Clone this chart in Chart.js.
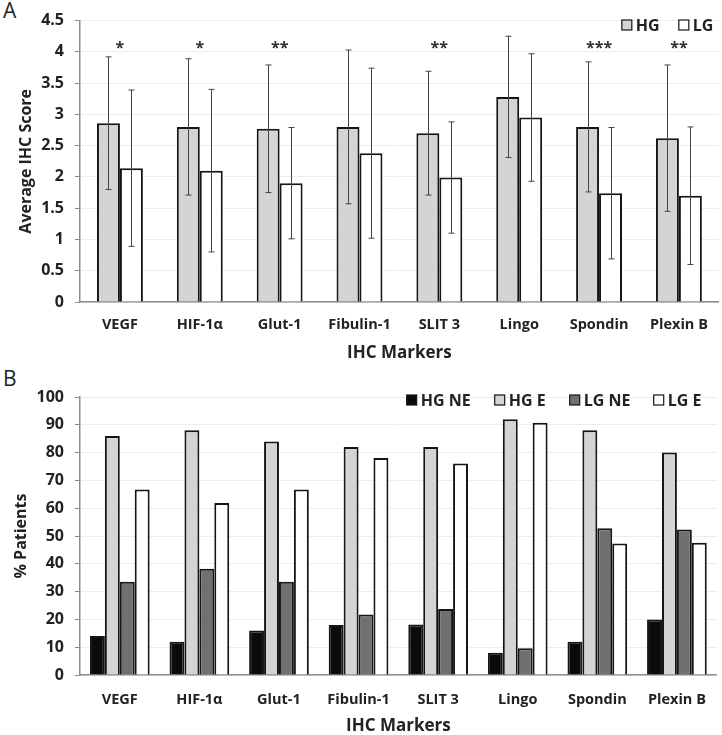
<!DOCTYPE html>
<html>
<head>
<meta charset="utf-8">
<script src="https://cdn.jsdelivr.net/npm/chart.js@4.4.1/dist/chart.umd.min.js"></script>
<style>
    body { margin: 0; background: #fff; overflow: hidden; }
    #wrap { position: relative; width: 722px; height: 735px; overflow: hidden; }
    .panel { position: absolute; left: 0; width: 722px; }
    #boxA { top: 0; height: 365px; }
    #boxB { top: 375px; height: 363px; }
    .letter { position: absolute; left: 3px; font: 21px "Open Sans", sans-serif; color: #222; }
</style>
</head>
<body>
<div id="wrap">
    <div class="letter" style="top:-4px">A</div>
    <div class="letter" style="top:364px">B</div>
    <div class="panel" id="boxA"><canvas id="chartA"></canvas></div>
    <div class="panel" id="boxB"><canvas id="chartB"></canvas></div>
</div>
<script>
const markers = ['VEGF', 'HIF-1α', 'Glut-1', 'Fibulin-1', 'SLIT 3', 'Lingo', 'Spondin', 'Plexin B'];

// panel A: average score +/- sd
const hgScore = [2.86, 2.80, 2.77, 2.80, 2.70, 3.28, 2.80, 2.62];
const lgScore = [2.14, 2.10, 1.90, 2.38, 1.99, 2.95, 1.74, 1.70];
const hgSd = [1.06, 1.09, 1.02, 1.23, 0.99, 0.97, 1.04, 1.17];
const lgSd = [1.25, 1.30, 0.89, 1.36, 0.89, 1.02, 1.05, 1.10];
const stars = ['*', '*', '**', '', '**', '', '***', '**'];
const scoreTicks = { min: 0, max: 4.5, step: 0.5 };

// panel B: % patients
const hgNE = [14, 12, 16, 18, 18.2, 8, 12, 20];
const hgE = [86, 88, 84, 82, 82, 92, 88, 80];
const lgNE = [33.5, 38.2, 33.5, 21.8, 23.7, 9.6, 52.8, 52.3];
const lgE = [66.7, 61.9, 66.7, 78.1, 76.1, 90.7, 47.3, 47.6];
const pctTicks = { min: 0, max: 100, step: 10 };

const fontName = '"Open Sans", Lato, sans-serif';
Chart.defaults.font.family = fontName;
Chart.defaults.color = '#222';

const axisGray = '#8c8c8c';
const edge = '#151515';

function baseOptions(ticks, yTitle, yTitlePad, topPad, xHeight, xPad) {
    return {
        responsive: true,
        maintainAspectRatio: false,
        animation: false,
        layout: { padding: { top: topPad, right: 2, left: 0, bottom: 0 } },
        plugins: { legend: { display: false }, tooltip: { enabled: false } },
        scales: {
            x: {
                grid: { display: false, drawTicks: false },
                border: { color: axisGray, width: 1.5 },
                ticks: { padding: xPad, maxRotation: 0, font: { size: 14.5, weight: 'bold' } },
                title: { display: true, text: 'IHC Markers', font: { size: 17, weight: 'bold' }, padding: { top: 4, bottom: 2 } },
                afterFit: s => { s.height = xHeight; }
            },
            y: {
                min: ticks.min,
                max: ticks.max,
                ticks: { stepSize: ticks.step, padding: 11, font: { size: 16, weight: 'bold' }, callback: v => String(v) },
                grid: { color: '#ededed', tickColor: axisGray, tickLength: 5 },
                border: { color: axisGray, width: 1.5 },
                title: { display: true, text: yTitle, font: { size: 16, weight: 'bold' }, padding: { top: yTitlePad, bottom: 0 } },
                afterFit: s => { s.width = 80; }
            }
        }
    };
}

// draws legend boxes at the top right of the plot area
function legendPlugin(spots) {
    return {
        id: 'boxLegend',
        afterDraw(chart) {
            const ctx = chart.ctx;
            const right = chart.chartArea.right;
            ctx.save();
            ctx.font = 'bold 16px ' + fontName;
            ctx.textBaseline = 'middle';
            chart.data.datasets.forEach((ds, i) => {
                const bx = right - spots.offsets[i];
                ctx.fillStyle = ds.backgroundColor;
                ctx.fillRect(bx, spots.y - 5, 10, 10);
                ctx.strokeStyle = edge;
                ctx.lineWidth = 1.2;
                ctx.strokeRect(bx, spots.y - 5, 10, 10);
                ctx.fillStyle = '#222';
                ctx.fillText(ds.label, bx + 14, spots.y + 1);
            });
            ctx.restore();
        }
    };
}

const errorPlugin = {
    id: 'errorBars',
    afterDatasetsDraw(chart) {
        const ctx = chart.ctx;
        const y = chart.scales.y;
        const sds = [hgSd, lgSd];
        ctx.save();
        ctx.strokeStyle = '#444';
        ctx.lineWidth = 1;
        chart.data.datasets.forEach((ds, i) => {
            chart.getDatasetMeta(i).data.forEach((bar, j) => {
                const v = ds.data[j];
                const top = y.getPixelForValue(v + sds[i][j]);
                const bot = y.getPixelForValue(v - sds[i][j]);
                const cx = Math.round(bar.x) + 0.5;
                ctx.beginPath();
                ctx.moveTo(cx, top);
                ctx.lineTo(cx, bot);
                ctx.moveTo(cx - 3, top);
                ctx.lineTo(cx + 3, top);
                ctx.moveTo(cx - 3, bot);
                ctx.lineTo(cx + 3, bot);
                ctx.stroke();
            });
        });
        // significance marks
        ctx.fillStyle = '#333';
        ctx.font = 'bold 16px ' + fontName;
        ctx.textAlign = 'center';
        ctx.textBaseline = 'middle';
        stars.forEach((s, j) => {
            ctx.fillText(s, chart.scales.x.getPixelForValue(j), y.getPixelForValue(4.06));
        });
        ctx.restore();
    }
};

function barSet(label, data, fill, pct) {
    return {
        label: label,
        data: data,
        backgroundColor: fill,
        borderColor: edge,
        borderWidth: 2,
        borderSkipped: 'bottom',
        barPercentage: 1,
        categoryPercentage: pct
    };
}

new Chart(document.getElementById('chartA'), {
    type: 'bar',
    data: {
        labels: markers,
        datasets: [
            barSet('HG', hgScore, '#d4d4d4', 0.575),
            barSet('LG', lgScore, '#ffffff', 0.575)
        ]
    },
    options: baseOptions(scoreTicks, 'Average IHC Score', 17, 20, 63, 14),
    plugins: [errorPlugin, legendPlugin({ y: 25, offsets: [97, 40] })]
});

new Chart(document.getElementById('chartB'), {
    type: 'bar',
    data: {
        labels: markers,
        datasets: [
            barSet('HG NE', hgNE, '#0b0b0b', 0.75),
            barSet('HG E', hgE, '#d4d4d4', 0.75),
            barSet('LG NE', lgNE, '#707070', 0.75),
            barSet('LG E', lgE, '#ffffff', 0.75)
        ]
    },
    options: baseOptions(pctTicks, '% Patients', 12, 22, 63, 16),
    plugins: [legendPlugin({ y: 25, offsets: [310, 222, 147, 63] })]
});
</script>
</body>
</html>
